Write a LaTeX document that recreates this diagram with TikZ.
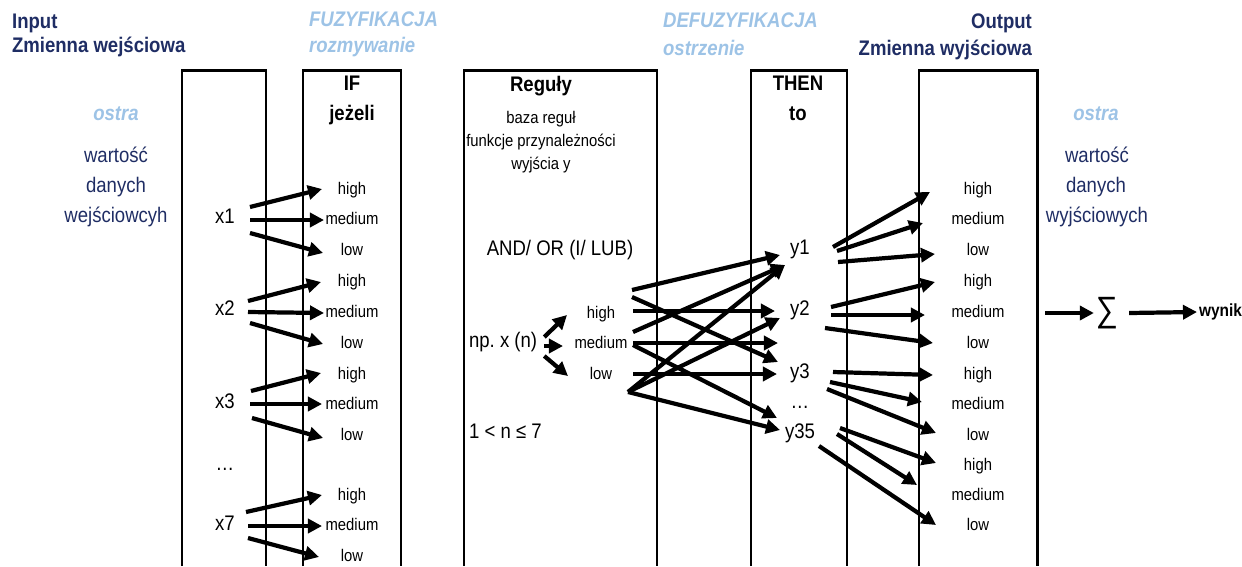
\documentclass[tikz,border=0pt]{standalone}
\usepackage{fontspec}
\setmainfont[FakeStretch=0.88]{Liberation Sans}
\usetikzlibrary{arrows.meta,calc}
\definecolor{navy}{RGB}{31,45,100}
\definecolor{lightblue}{RGB}{157,195,230}
\tikzset{
  box/.style={line width=1.7pt},
  arr/.style={line width=2.4pt,-{Triangle[length=8pt,width=8pt]}},
  big/.style={font=\fontsize{12}{14}\selectfont,inner sep=1pt,text height=1.4ex,text depth=.4ex},
  small/.style={font=\fontsize{9.6}{11}\selectfont,inner sep=1pt,text height=1.5ex,text depth=.3ex},
  title/.style={big,font=\fontsize{12}{14}\selectfont\bfseries},
  head/.style={title,text=navy},
  phase/.style={big,font=\fontsize{12}{14}\selectfont\bfseries\itshape,text=lightblue},
}

\begin{document}
\begin{tikzpicture}[x=0.02cm,y=-0.02cm]
\useasboundingbox (0,0) rectangle (1242,566);

% headings
\node[head,anchor=west] (inp) at (10,24) {Input};
\node[head,anchor=west] (zin) at (10,48) {Zmienna wejściowa};
\node[phase,anchor=west] (fuz) at (307,22) {FUZYFIKACJA};
\node[phase,anchor=west] (roz) at (307,48) {rozmywanie};
\node[phase,anchor=west] (def) at (661,23) {DEFUZYFIKACJA};
\node[phase,anchor=west] (ost) at (661,51) {ostrzenie};
\node[head,anchor=east] (outp) at (1034,24) {Output};
\node[head,anchor=east] (zout) at (1034,51) {Zmienna wyjściowa};

% columns
\draw[box] (182,566) -- (182,70) -- (266,70) -- (266,566);
\draw[box] (303,566) -- (303,70) -- (401,70) -- (401,566);
\draw[box] (464,566) -- (464,70) -- (657,70) -- (657,566);
\draw[box] (751,566) -- (751,70) -- (847,70) -- (847,566);
\draw[box] (919,566) -- (919,70) -- (1037,70) -- (1037,566);

\node[title] (if) at (352,86) {IF};
\node[title] (jez) at (352,116) {jeżeli};
\node[title] (reg) at (541,87) {Reguły};
\node[small] (baza) at (541,118) {baza reguł};
\node[small] (funk) at (541,141) {funkcje przynależności};
\node[small] (wyj) at (541,164) {wyjścia y};
\node[title] (then) at (798,86) {THEN};
\node[title] (to) at (798,116) {to};

% crisp values
\node[phase] (ostin) at (116,116) {ostra};
\node[big,text=navy] (win1) at (116,158) {wartość};
\node[big,text=navy] (win2) at (116,188) {danych};
\node[big,text=navy] (win3) at (116,218) {wejściowcyh};
\node[phase] (ostout) at (1096,116) {ostra};
\node[big,text=navy] (wout1) at (1097,158) {wartość};
\node[big,text=navy] (wout2) at (1096,188) {danych};
\node[big,text=navy] (wout3) at (1097,218) {wyjściowych};

% inputs
\node[big] (x1) at (225,219) {x1};
\node[big] (x2) at (225,311) {x2};
\node[big] (x3) at (225,404) {x3};
\node[big] (xdots) at (225,466) {\dots};
\node[big] (x7) at (225,526) {x7};

\node[small] (ih1) at (352,189) {high};
\node[small] (im1) at (352,219) {medium};
\node[small] (il1) at (352,250) {low};
\node[small] (ih2) at (352,281) {high};
\node[small] (im2) at (352,312) {medium};
\node[small] (il2) at (352,343) {low};
\node[small] (ih3) at (352,374) {high};
\node[small] (im3) at (352,404) {medium};
\node[small] (il3) at (352,435) {low};
\node[small] (ih7) at (352,495) {high};
\node[small] (im7) at (352,525) {medium};
\node[small] (il7) at (352,556) {low};

\draw[arr] ($(x1)+(25,-12)$) -- ($(ih1)+(-30,0)$);
\draw[arr] ($(x1)+(25,1)$) -- ($(im1)+(-28,1)$);
\draw[arr] ($(x1)+(25,14)$) -- ($(il1)+(-29,3)$);
\draw[arr] ($(x2)+(23,-10)$) -- ($(ih2)+(-31,1)$);
\draw[arr] ($(x2)+(23,1)$) -- ($(im2)+(-28,1)$);
\draw[arr] ($(x2)+(25,12)$) -- ($(il2)+(-29,1)$);
\draw[arr] ($(x3)+(26,-13)$) -- ($(ih3)+(-31,-1)$);
\draw[arr] ($(x3)+(25,0)$) -- ($(im3)+(-30,0)$);
\draw[arr] ($(x3)+(27,14)$) -- ($(il3)+(-29,3)$);
\draw[arr] ($(x7)+(21,-14)$) -- ($(ih7)+(-30,0)$);
\draw[arr] ($(x7)+(23,0)$) -- ($(im7)+(-30,1)$);
\draw[arr] ($(x7)+(23,12)$) -- ($(il7)+(-33,1)$);

% rules
\node[big] (andor) at (560,251) {AND/ OR (I/ LUB)};
\node[big,anchor=west] (np) at (467,343) {np.\ x (n)};
\node[big,anchor=west] (cond) at (467,434) {1 < n ≤ 7};
\node[small] (rh) at (601,313) {high};
\node[small] (rm) at (601,343) {medium};
\node[small] (rl) at (601,374) {low};

\draw[arr] ($(np.east)+(5,-6)$) -- ($(rh)+(-34,2)$);
\draw[arr] ($(np.east)+(5,3)$) -- ($(rm)+(-38,3)$);
\draw[arr] ($(np.east)+(5,13)$) -- ($(rl)+(-33,2)$);

% outputs y
\node[big] (y1) at (800,250) {y1};
\node[big] (y2) at (800,311) {y2};
\node[big] (y3) at (800,374) {y3};
\node[big] (ydots) at (800,404) {\dots};
\node[big] (y35) at (800,434) {y35};
\coordinate (gap) at (778,343);

\draw[arr] ($(rh)+(31,-23)$) -- ($(y1)+(-20,5)$);
\draw[arr] ($(rh)+(31,-16)$) -- ($(y3)+(-22,-12)$);
\draw[arr] ($(rh)+(32,-2)$) -- ($(y2)+(-25,0)$);
\draw[arr] ($(rm)+(32,-11)$) -- ($(y1)+(-15,15)$);
\draw[arr] ($(rm)+(32,0)$) -- (gap);
\draw[arr] ($(rm)+(32,2)$) -- ($(y35)+(-23,-16)$);
\draw[arr] ($(rl)+(32,0)$) -- ($(y3)+(-23,0)$);
\draw[arr] ($(rl)+(27,18)$) -- ($(y1)+(-15,15)$);
\draw[arr] ($(rl)+(27,18)$) -- ($(y2)+(-20,7)$);
\draw[arr] ($(rl)+(27,18)$) -- ($(y35)+(-20,-4)$);

% output sets
\node[small] (oh1) at (978,189) {high};
\node[small] (om1) at (978,219) {medium};
\node[small] (ol1) at (978,250) {low};
\node[small] (oh2) at (978,281) {high};
\node[small] (om2) at (978,312) {medium};
\node[small] (ol2) at (978,343) {low};
\node[small] (oh3) at (978,374) {high};
\node[small] (om3) at (978,404) {medium};
\node[small] (ol3) at (978,435) {low};
\node[small] (oh35) at (978,465) {high};
\node[small] (om35) at (978,495) {medium};
\node[small] (ol35) at (978,525) {low};

\draw[arr] ($(y1)+(33,-3)$) -- ($(oh1)+(-48,3)$);
\draw[arr] ($(y1)+(37,1)$) -- ($(om1)+(-55,4)$);
\draw[arr] ($(y1)+(38,12)$) -- ($(ol1)+(-43,4)$);
\draw[arr] ($(y2)+(31,-4)$) -- ($(oh2)+(-43,1)$);
\draw[arr] ($(y2)+(31,4)$) -- ($(om2)+(-53,3)$);
\draw[arr] ($(y2)+(25,17)$) -- ($(ol2)+(-45,0)$);
\draw[arr] ($(y3)+(33,-2)$) -- ($(oh3)+(-45,1)$);
\draw[arr] ($(y3)+(30,8)$) -- ($(om3)+(-56,-2)$);
\draw[arr] ($(y3)+(27,15)$) -- ($(ol3)+(-42,-2)$);
\draw[arr] ($(y35)+(40,-6)$) -- ($(oh35)+(-42,-2)$);
\draw[arr] ($(y35)+(37,0)$) -- ($(om35)+(-61,-10)$);
\draw[arr] ($(y35)+(19,12)$) -- ($(ol35)+(-42,0)$);

% result
\coordinate (res) at (1045,313);
\node[font=\fontsize{20}{22}\selectfont,inner sep=1pt] (sum) at (1107,313) {∑};
\node[title,font=\fontsize{10}{12}\selectfont\bfseries,anchor=west] (wyn) at (1197,312) {wynik};
\draw[arr] (res) -- (sum.west);
\draw[arr] ($(sum.east)+(9,0)$) -- (wyn.west);
\end{tikzpicture}
\end{document}
